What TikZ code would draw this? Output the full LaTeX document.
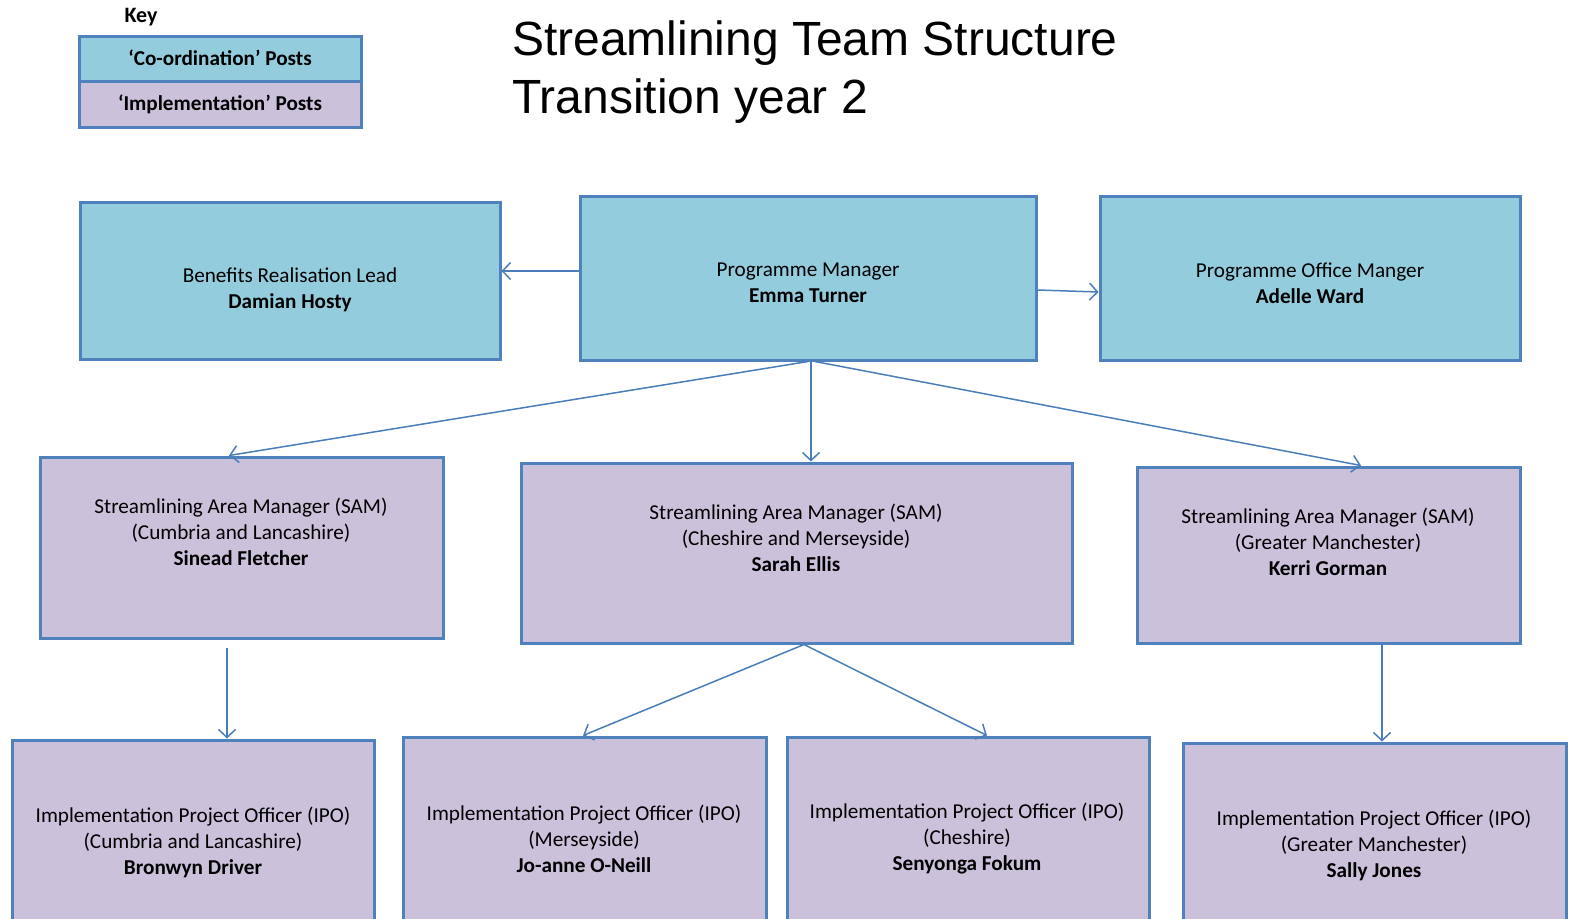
\documentclass[tikz,border=0pt]{standalone}
\usepackage{fontspec}
\setmainfont{Carlito}
\newfontfamily\titlefont{Liberation Sans}
\usetikzlibrary{arrows.meta}

\definecolor{coordblue}{RGB}{147,205,221}
\definecolor{implilac}{RGB}{204,193,218}
\definecolor{edgeblue}{RGB}{79,129,189}
\definecolor{linkblue}{RGB}{74,126,187}

\tikzset{
  coordpost/.style={draw=edgeblue, line width=3pt, fill=coordblue, inner sep=0pt},
  implpost/.style={draw=edgeblue, line width=3pt, fill=implilac, inner sep=0pt},
  posttext/.style={align=center, font=\fontsize{21.2}{26}\selectfont, inner sep=0pt},
  keytext/.style={font=\bfseries\fontsize{21.2}{25}\selectfont, inner sep=0pt},
  titletext/.style={anchor=base west, font=\titlefont\fontsize{48}{58}\selectfont, inner sep=0pt},
  link/.style={draw=linkblue, line width=1.5pt, -{Straight Barb[length=8pt,width=17pt]}}
}

\begin{document}
\begin{tikzpicture}[x=1pt,y=-1pt]
\useasboundingbox (0,0) rectangle (1571,918);
\clip (0,0) rectangle (1571,918);

% key
\node[keytext, font=\bfseries\fontsize{22}{26}\selectfont, anchor=base] (keylabel) at (141,22) {Key};
\node[coordpost, minimum width=282pt, minimum height=45pt] (keyco) at (220,58.5) {};
\node[implpost, minimum width=282pt, minimum height=46pt] (keyimp) at (220,104) {};
\node[keytext] (keycot) at (220,58) {‘Co-ordination’ Posts};
\node[keytext] (keyimpt) at (220,104) {‘Implementation’ Posts};

% title
\node[titletext] (title1) at (512,55) {Streamlining Team Structure};
\node[titletext] (title2) at (512,113) {Transition year 2};

% co-ordination posts
\node[coordpost, minimum width=420pt, minimum height=157pt] (brl) at (290,280.5) {};
\node[coordpost, minimum width=456pt, minimum height=164pt] (pm) at (808,278) {};
\node[coordpost, minimum width=420pt, minimum height=164pt] (pom) at (1310,278) {};
\node[posttext] (brlt) at (290,290) {Benefits Realisation Lead\\\textbf{Damian Hosty}};
\node[posttext] (pmt) at (808,283) {Programme Manager\\\textbf{Emma Turner}};
\node[posttext] (pomt) at (1310,283) {Programme Office Manger\\\textbf{Adelle Ward}};

% area managers
\node[implpost, minimum width=403pt, minimum height=181pt] (sam1) at (241.5,547.5) {};
\node[implpost, minimum width=551pt, minimum height=180pt] (sam2) at (796.5,553) {};
\node[implpost, minimum width=383pt, minimum height=176pt] (sam3) at (1328.5,555) {};
\node[posttext] (sam1t) at (241,531.5) {Streamlining Area Manager (SAM)\\(Cumbria and Lancashire)\\\textbf{Sinead Fletcher}};
\node[posttext] (sam2t) at (796,537.5) {Streamlining Area Manager (SAM)\\(Cheshire and Merseyside)\\\textbf{Sarah Ellis}};
\node[posttext] (sam3t) at (1328,541.5) {Streamlining Area Manager (SAM)\\(Greater Manchester)\\\textbf{Kerri Gorman}};

% project officers
\node[implpost, minimum width=362pt, minimum height=220pt] (ipo1) at (193,850) {};
\node[implpost, minimum width=363pt, minimum height=223pt] (ipo2) at (584.5,848.5) {};
\node[implpost, minimum width=362pt, minimum height=223pt] (ipo3) at (968,848.5) {};
\node[implpost, minimum width=383pt, minimum height=217pt] (ipo4) at (1374.5,851.5) {};
\node[posttext] (ipo1t) at (193,842) {Implementation Project Officer (IPO)\\(Cumbria and Lancashire)\\\textbf{Bronwyn Driver}};
\node[posttext] (ipo2t) at (584,839) {Implementation Project Officer (IPO)\\(Merseyside)\\\textbf{Jo-anne O-Neill}};
\node[posttext] (ipo3t) at (967,839) {Implementation Project Officer (IPO)\\(Cheshire)\\\textbf{Senyonga Fokum}};
\node[posttext] (ipo4t) at (1374,845) {Implementation Project Officer (IPO)\\(Greater Manchester)\\\textbf{Sally Jones}};

% reporting lines
\draw[link] ([yshift=7pt]pm.west) -- ([yshift=9.5pt]brl.east);
\draw[link] ([yshift=-12pt]pm.east) -- ([yshift=-14pt]pom.west);
\draw[link] (pm.south) -- ([xshift=-12.5pt]sam1.north);
\draw[link] ([xshift=3pt]pm.south) -- ([xshift=14.5pt]sam2.north);
\draw[link] ([xshift=7pt]pm.south) -- ([xshift=32.5pt]sam3.north);
\draw[link] ([xshift=-14.5pt,yshift=-8pt]sam1.south) -- ([xshift=34pt]ipo1.north);
\draw[link] ([xshift=7.5pt]sam2.south) -- ([xshift=-1.5pt]ipo2.north);
\draw[link] ([xshift=7.5pt]sam2.south) -- ([xshift=19pt]ipo3.north);
\draw[link] ([xshift=53.5pt]sam3.south) -- ([xshift=7.5pt]ipo4.north);
\end{tikzpicture}
\end{document}
